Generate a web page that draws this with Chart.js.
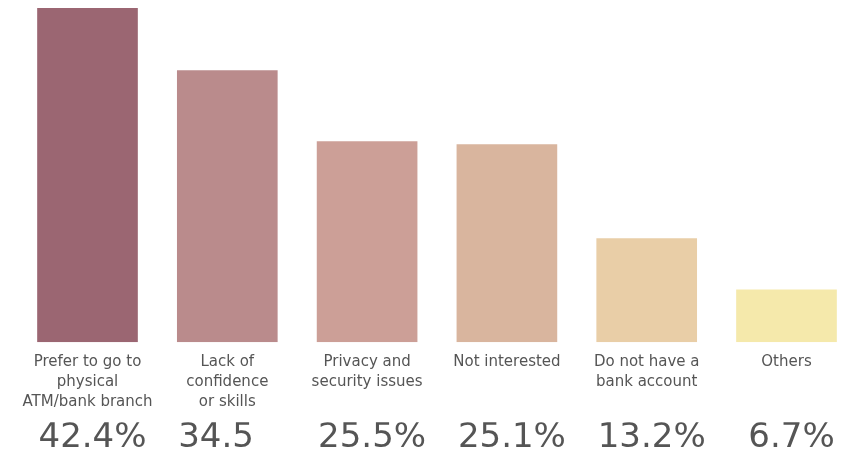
<!DOCTYPE html>
<html>
<head>
<meta charset="utf-8">
<script src="https://cdn.jsdelivr.net/npm/chart.js@4/dist/chart.umd.min.js"></script>
<style>
  html, body { margin: 0; padding: 0; background: #fff; overflow: hidden; }
  #wrap { width: 860px; height: 462px; }
</style>
</head>
<body>
<div id="wrap"><canvas id="chart"></canvas></div>
<script>
// reasons for not using online banking (%)
const categories = [
  ["Prefer to go to", "physical", "ATM/bank branch"],
  ["Lack of", "confidence", "or skills"],
  ["Privacy and", "security issues"],
  ["Not interested"],
  ["Do not have a", "bank account"],
  ["Others"]
];
const values = [42.4, 34.5, 25.5, 25.1, 13.2, 6.7];
const valueLabels = ["42.4%", "34.5   ", "25.5%", "25.1%", "13.2%", "6.7%"];
const barColors = ["#9b6672", "#ba8b8c", "#cc9f97", "#d9b59e", "#e9cea7", "#f5e9ab"];

const ctx = document.getElementById("chart").getContext("2d");
new Chart(ctx, {
  type: "bar",
  data: {
    labels: categories,
    datasets: [{
      data: values,
      backgroundColor: barColors,
      categoryPercentage: 1,
      barPercentage: 0.72,
      xAxisID: "x"
    }]
  },
  options: {
    responsive: true,
    maintainAspectRatio: false,
    animation: false,
    layout: { padding: { top: 8, left: 17.6, right: 3.6, bottom: 8 } },
    plugins: {
      legend: { display: false },
      tooltip: { enabled: false }
    },
    scales: {
      y: { display: false, min: 0, max: 42.4 },
      x: {
        weight: 1,
        grid: { display: false, drawTicks: false },
        border: { display: false },
        ticks: {
          padding: 10,
          maxRotation: 0,
          autoSkip: false,
          color: "#555",
          font: { family: "DejaVu Sans", size: 15, lineHeight: "20px" }
        }
      },
      x2: {
        type: "category",
        position: "bottom",
        weight: 2,
        labels: valueLabels,
        grid: { display: false, drawTicks: false },
        border: { display: false },
        ticks: {
          padding: -4.5,
          labelOffset: 5,
          maxRotation: 0,
          autoSkip: false,
          color: "#555",
          font: { family: "DejaVu Sans", size: 34, lineHeight: 1.2 }
        }
      }
    }
  }
});
</script>
</body>
</html>
